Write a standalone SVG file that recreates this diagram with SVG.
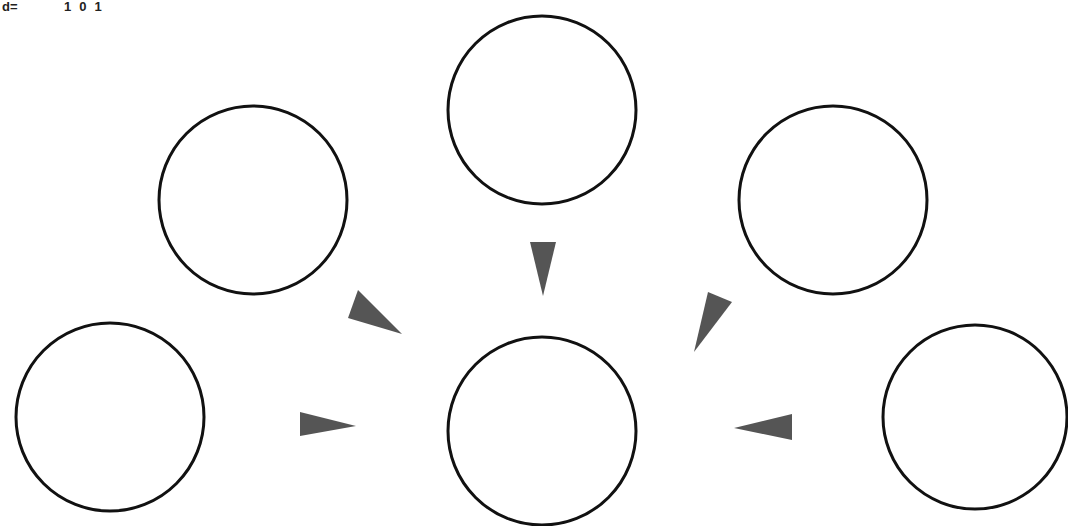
<svg xmlns="http://www.w3.org/2000/svg" width="1068" height="526" viewBox="0 0 1068 526">
<style>
.node{fill:#fff;stroke:#111;stroke-width:3}
.head{fill:#555}
.lbl{font-family:"Liberation Sans",Arial,sans-serif;font-size:13px;fill:#222;font-weight:bold}
</style>
<rect width="1068" height="526" fill="#fff"/>
<text class="lbl" x="2" y="11">d=</text>
<text class="lbl" x="64" y="11" letter-spacing="8">101</text>
<g id="n-top"><circle class="node" cx="542" cy="110" r="94"/></g>
<g id="n-topleft"><circle class="node" cx="253" cy="200" r="94"/></g>
<g id="n-topright"><circle class="node" cx="833" cy="200" r="94"/></g>
<g id="n-botleft"><circle class="node" cx="110" cy="417" r="94"/></g>
<g id="n-center"><circle class="node" cx="542" cy="431" r="94"/></g>
<g id="n-botright"><circle class="node" cx="975" cy="417" r="92"/></g>
<g id="connectors">
<polygon class="head" points="530,242 556,242 543,296"/>
<polygon class="head" points="348,318 358,290 402,334"/>
<polygon class="head" points="708,292 732,302 694,352"/>
<polygon class="head" points="300,412 300,436 356,426"/>
<polygon class="head" points="792,414 792,440 734,428"/>
</g>
</svg>
